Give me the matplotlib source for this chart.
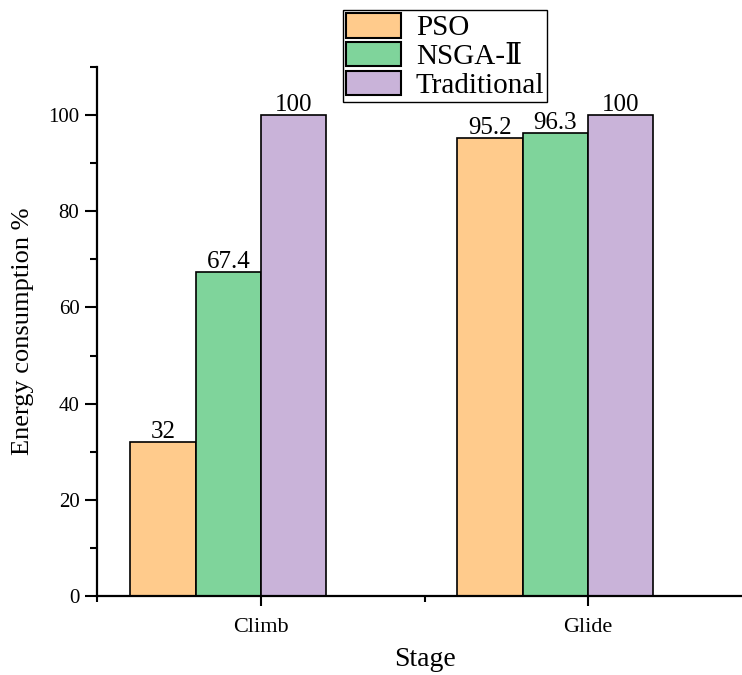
import matplotlib
matplotlib.use("Agg")
import matplotlib.pyplot as plt
import numpy as np
from matplotlib.ticker import MultipleLocator

plt.rcParams['font.family'] = ['Liberation Serif', 'DejaVu Serif', 'Noto Sans CJK SC']

stages = ["Climb", "Glide"]
series_names = ["PSO", "NSGA-Ⅱ", "Traditional"]
pso = [32, 95.2]
nsga = [67.4, 96.3]
traditional = [100, 100]
value_labels = [["32", "95.2"], ["67.4", "96.3"], ["100", "100"]]
colors = ["#FFCB8C", "#7FD49B", "#C9B3D9"]

fig = plt.figure(figsize=(7.42, 6.75), dpi=100)
ax = fig.add_axes([97.5/742, 79/675, 654/742, 529/675])

x = np.arange(len(stages))
w = 0.2
offsets = [-0.3, -0.1, 0.1]
for vals, off, col, name, labs in zip([pso, nsga, traditional], offsets, colors, series_names, value_labels):
    bars = ax.bar(x + off, vals, width=w, color=col, edgecolor='black', linewidth=1.2, label=name)
    for b, lab in zip(bars, labs):
        ax.text(b.get_x() + b.get_width()/2, b.get_height() + 0.8, lab,
                ha='center', va='baseline', fontsize=18)

ax.set_xlim(-0.5, 1.5)
ax.set_ylim(0, 110)
ax.set_xticks(x)
ax.set_xticklabels(stages, fontsize=16)
ax.xaxis.set_minor_locator(MultipleLocator(0.5))
ax.yaxis.set_major_locator(MultipleLocator(20))
ax.yaxis.set_minor_locator(MultipleLocator(10))
ax.tick_params(axis='y', which='major', length=9, width=1.5, labelsize=15, pad=4)
ax.tick_params(axis='y', which='minor', length=5, width=1.5)
ax.tick_params(axis='x', which='major', length=7, width=1.5, pad=9)
ax.tick_params(axis='x', which='minor', length=4, width=1.5)
for s in ['top', 'right']:
    ax.spines[s].set_visible(False)
for s in ['left', 'bottom']:
    ax.spines[s].set_linewidth(1.6)

ax.set_ylabel("Energy consumption %", fontsize=19, labelpad=10)
ax.set_xlabel("Stage", fontsize=20, labelpad=7)

leg = fig.legend(loc='upper left', bbox_to_anchor=(343/742, 1 - 10/675), fontsize=21,
                 frameon=True, fancybox=False, edgecolor='black', framealpha=1,
                 handlelength=1.9, handleheight=0.92, handletextpad=0.5,
                 labelspacing=0.02, borderpad=0.1, borderaxespad=0)
leg.get_frame().set_linewidth(1.0)
for p in leg.get_patches():
    p.set_linewidth(1.5)

fig.savefig("out.png", dpi=100)
